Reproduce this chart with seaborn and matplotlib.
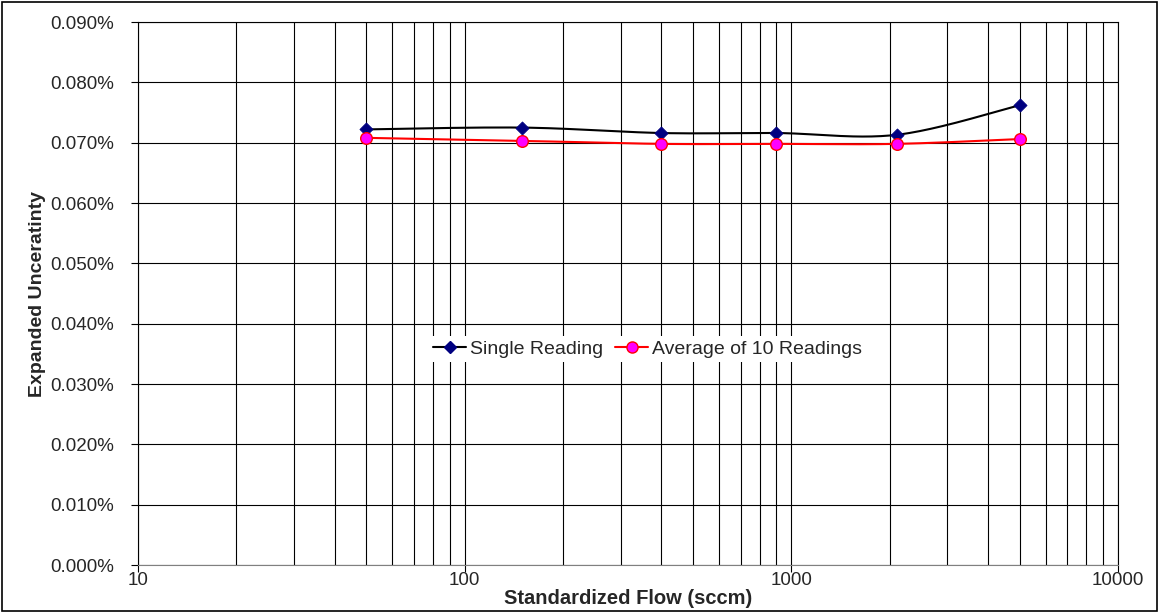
import numpy as np
import pandas as pd
import seaborn as sns
import matplotlib
matplotlib.use("Agg")
import matplotlib.pyplot as plt
from matplotlib.lines import Line2D
from matplotlib.patches import Rectangle
from matplotlib.ticker import FuncFormatter, LogLocator, NullFormatter

# data (flow in sccm, uncertainty in %)
flow = [50, 150, 400, 900, 2100, 5000]
single = [0.0722, 0.0725, 0.0716, 0.0716, 0.0713, 0.0762]
average10 = [0.0708, 0.0703, 0.0698, 0.0698, 0.0698, 0.0706]

sns.set_style("white")
plt.rcParams['font.family'] = ['Liberation Sans', 'DejaVu Sans']


def smooth(xs, ys, n=40):
    # Excel style smoothed line: catmull-rom through the points, in log-x space
    lx = np.log10(xs)
    ys = np.asarray(ys)
    px = np.concatenate([[lx[0]], lx, [lx[-1]]])
    py = np.concatenate([[ys[0]], ys, [ys[-1]]])
    outx, outy = [], []
    for i in range(1, len(px) - 2):
        p0, p1, p2, p3 = (np.array([px[j], py[j]]) for j in (i - 1, i, i + 1, i + 2))
        c1 = p1 + (p2 - p0) / 6
        c2 = p2 - (p3 - p1) / 6
        t = np.linspace(0, 1, n)[:, None]
        b = (1 - t) ** 3 * p1 + 3 * (1 - t) ** 2 * t * c1 + 3 * (1 - t) * t ** 2 * c2 + t ** 3 * p2
        outx.extend(b[:, 0])
        outy.extend(b[:, 1])
    return 10 ** np.array(outx), np.array(outy)


fig = plt.figure(figsize=(11.59, 6.13), dpi=100)
ax = fig.add_axes([0.1191, 0.0783, 0.8455, 0.8858])

sx, sy = smooth(flow, single)
ax_x, ay = smooth(flow, average10)
curves = pd.DataFrame({"x": np.concatenate([sx, ax_x]), "y": np.concatenate([sy, ay]),
                       "s": ["Single Reading"] * len(sx) + ["Average of 10 Readings"] * len(ax_x)})
sns.lineplot(data=curves[curves.s == "Single Reading"], x="x", y="y", color="black",
             lw=1.5, sort=False, estimator=None, ax=ax, legend=False)
sns.lineplot(data=curves[curves.s != "Single Reading"], x="x", y="y", color="red",
             lw=1.5, sort=False, estimator=None, ax=ax, legend=False)

pts = pd.DataFrame({"flow": flow, "single": single, "avg": average10})
sns.scatterplot(data=pts, x="flow", y="single", marker="D", s=45, color="#000080",
                edgecolor="#000080", ax=ax, zorder=5)
sns.scatterplot(data=pts, x="flow", y="avg", marker="o", s=70, color="#FF00FF",
                edgecolor="red", linewidth=1, ax=ax, zorder=5)

ax.set_xscale("log")
ax.set_xlim(10, 10000)
ax.set_ylim(0, 0.09)
ax.set_yticks(np.arange(0, 0.0901, 0.01))
ax.yaxis.set_major_formatter(FuncFormatter(lambda v, p: f"{v:.3f}%"))
ax.xaxis.set_major_locator(LogLocator(base=10, numticks=10))
ax.xaxis.set_minor_locator(LogLocator(base=10, subs=np.arange(2, 10), numticks=10))
ax.xaxis.set_minor_formatter(NullFormatter())
ax.xaxis.set_major_formatter(FuncFormatter(lambda v, p: f"{v:.0f}"))

ax.grid(True, which="major", axis="both", color="black", lw=0.8)
ax.grid(True, which="minor", axis="x", color="black", lw=0.8)
ax.set_axisbelow(True)
ax.tick_params(axis="both", which="major", direction="out", length=5, width=0.8,
               labelsize=13.5, left=True, bottom=True, color="black")
ax.tick_params(axis="y", which="major", pad=12)
ax.tick_params(axis="x", which="major", pad=0)
ax.tick_params(axis="x", which="minor", length=0)
for sp in ax.spines.values():
    sp.set_color("black")
    sp.set_linewidth(0.8)
ax.spines["bottom"].set_color("#808080")

ax.set_xlabel("Standardized Flow (sccm)", fontsize=14.5, fontweight="bold", labelpad=0)
ax.set_ylabel("Expanded Unceratinty", fontsize=14, fontweight="bold", labelpad=3)

handles = [
    Line2D([], [], color="black", lw=1.5, marker="D", ms=6, mfc="#000080", mec="#000080"),
    Line2D([], [], color="red", lw=1.5, marker="o", ms=8, mfc="#FF00FF", mec="red"),
]
leg = ax.legend(handles, ["Single Reading", "Average of 10 Readings"], ncol=2, frameon=True,
                loc="center", bbox_to_anchor=(0.52, 0.398), fontsize=14, handlelength=1.7,
                handletextpad=0.2, columnspacing=0.6, borderpad=0.2, fancybox=False)
leg.get_frame().set_facecolor("white")
leg.get_frame().set_edgecolor("none")
leg.get_frame().set_alpha(1)

fig.patches.append(Rectangle((0.0017, 0.0033), 0.9966, 0.9934, transform=fig.transFigure,
                             fill=False, edgecolor="black", lw=1.2))

fig.savefig("out.png", dpi=100)
